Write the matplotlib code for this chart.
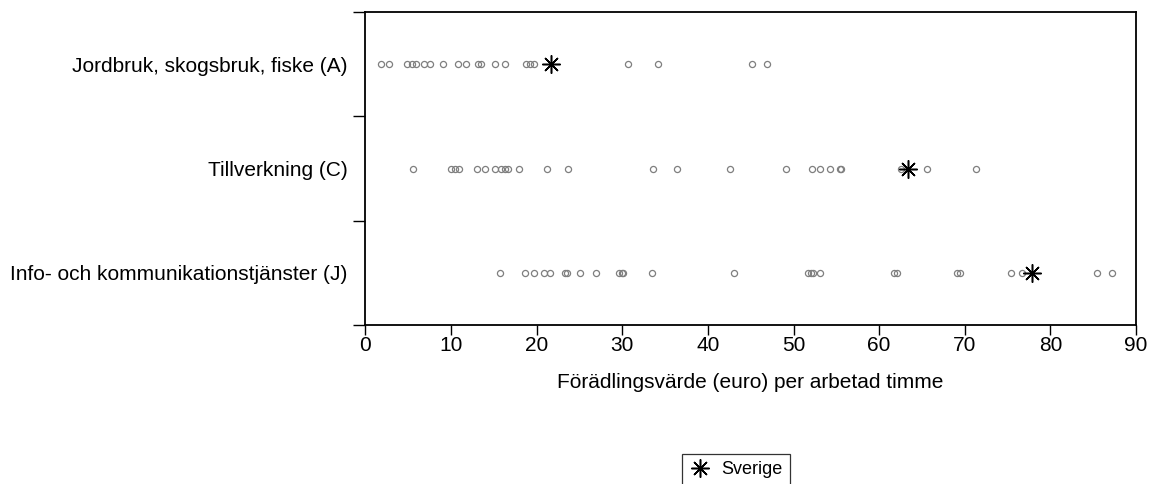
import matplotlib
matplotlib.use("Agg")
import matplotlib.pyplot as plt

plt.rcParams["font.family"] = ["Liberation Sans", "DejaVu Sans"]

# Sectors, top to bottom
categories = [
    "Jordbruk, skogsbruk, fiske (A)",
    "Tillverkning (C)",
    "Info- och kommunikationstjänster (J)",
]

# Value added (euro) per hour worked, one value per country
values_A = [1.8, 2.8, 4.9, 5.4, 5.9, 6.8, 7.6, 9.1, 10.8, 11.8, 13.2, 13.5,
            15.1, 16.3, 18.7, 19.2, 19.7, 30.7, 34.2, 45.1, 46.9]
values_C = [5.6, 10.0, 10.5, 10.9, 13.0, 14.0, 15.1, 15.8, 16.3, 16.7, 17.9,
            21.2, 23.7, 33.6, 36.4, 42.6, 49.1, 52.2, 53.1, 54.3, 55.4, 55.6,
            62.6, 65.6, 71.3]
values_J = [15.7, 18.6, 19.7, 20.9, 21.6, 23.3, 23.5, 25.1, 26.9, 29.6, 30.0,
            30.1, 33.5, 43.1, 51.7, 52.0, 52.3, 53.1, 61.7, 62.1, 69.1, 69.5,
            75.4, 76.7, 85.4, 87.2]
sweden = [21.7, 63.4, 77.9]

series = [values_A, values_C, values_J]
xticks = [0, 10, 20, 30, 40, 50, 60, 70, 80, 90]
xlabel = "Förädlingsvärde (euro) per arbetad timme"
legend_label = "Sverige"

fig = plt.figure(figsize=(11.49, 4.84), dpi=100)
ax = fig.add_axes([0.318, 0.3285, 0.9887 - 0.318, 0.975 - 0.3285])

n = len(categories)
ypos = [n - i for i in range(n)]  # first category on top

for y, vals in zip(ypos, series):
    ax.plot(vals, [y] * len(vals), linestyle="none", marker="o",
            markersize=4.4, markerfacecolor="none", markeredgecolor="#7f7f7f",
            markeredgewidth=0.9)

ax.plot(sweden, ypos, linestyle="none", marker=(8, 2, 0), markersize=13,
        color="black", markeredgewidth=1.1, label=legend_label)

ax.set_xlim(0, 90)
ax.set_ylim(0.5, n + 0.5)
ax.set_xticks(xticks)
ax.set_yticks(ypos)
ax.set_yticklabels(categories)
ax.set_yticks([i + 0.5 for i in range(n + 1)], minor=True)

ax.tick_params(axis="y", which="major", length=0, pad=13, labelsize=15)
ax.tick_params(axis="y", which="minor", length=9, width=1, direction="out")
ax.tick_params(axis="x", which="major", length=7, width=1, direction="out",
               labelsize=15, pad=1)

for s in ax.spines.values():
    s.set_linewidth(1.3)
    s.set_color("black")

fig.text(750 / 1149, 1 - 382 / 484, xlabel, ha="center", va="center",
         fontsize=15)

leg = fig.legend(loc="upper center", bbox_to_anchor=(736 / 1149, 1 - 454 / 484),
                 frameon=True, fancybox=False, fontsize=13, handletextpad=0.6,
                 borderpad=0.4, handlelength=1.2, borderaxespad=0)
leg.get_frame().set_edgecolor("black")
leg.get_frame().set_linewidth(0.9)

fig.savefig("out.png", dpi=100)
